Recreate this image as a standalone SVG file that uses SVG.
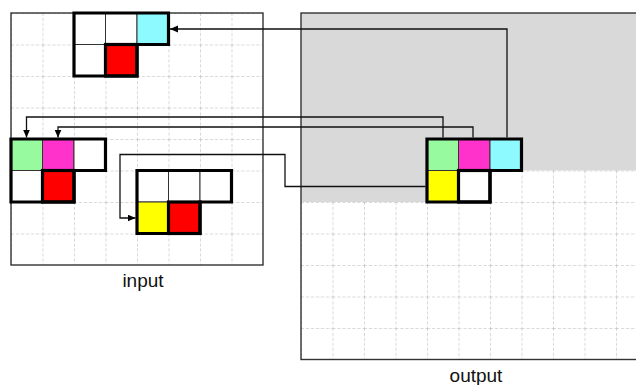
<svg xmlns="http://www.w3.org/2000/svg" width="636" height="385" viewBox="0 0 636 385">
  <style>
    .grid { stroke: #b0b0b0; stroke-width: 1; stroke-dasharray: 3 2; fill: none; }
    .frame { fill: none; stroke: #333; stroke-width: 1.4; }
    .cell { stroke: #333; stroke-width: 1; }
    .thick { fill: none; stroke: #000; stroke-width: 3.2; stroke-linejoin: miter; }
    .conn { fill: none; stroke: #111; stroke-width: 1.3; }
    .label { font-family: "Liberation Sans", Arial, sans-serif; font-size: 19px; fill: #111; text-anchor: middle; }
    .w { fill: #fff; }
    .cy { fill: #8cfaff; }
    .rd { fill: #ff0000; }
    .gr { fill: #98fa9e; }
    .mg { fill: #ff33cc; }
    .ye { fill: #ffff00; }
  </style>
  <defs>
    <marker id="arrow" markerUnits="userSpaceOnUse" markerWidth="9" markerHeight="8" refX="8" refY="3.5" orient="auto">
      <path d="M0,0 L8,3.5 L0,7 Z" fill="#000"/>
    </marker>
    <!-- 31.5px cell grid, dashed -->
    <pattern id="cells" x="11" y="13" width="31.5" height="31.5" patternUnits="userSpaceOnUse">
      <path d="M0,0 H31.5 M0,0 V31.5" class="grid"/>
    </pattern>
    <pattern id="cellsOut" x="301" y="13" width="31.5" height="31.5" patternUnits="userSpaceOnUse">
      <path d="M0,0 H31.5 M0,0 V31.5" class="grid"/>
    </pattern>
  </defs>

  <!-- input board -->
  <g id="input-board">
    <rect x="11" y="13" width="252" height="252" fill="#fff"/>
    <rect x="11" y="13" width="252" height="252" fill="url(#cells)"/>
    <rect x="11" y="13" width="252" height="252" class="frame"/>
    <text x="143" y="287" class="label">input</text>
  </g>

  <!-- output board -->
  <g id="output-board">
    <rect x="301" y="13" width="346.5" height="346.5" fill="#fff"/>
    <rect x="301" y="13" width="346.5" height="346.5" fill="url(#cellsOut)"/>
    <path d="M301,13 H647.5 V170.5 H490 V202 H301 Z" fill="#d9d9d9"/>
    <rect x="301" y="13" width="346.5" height="346.5" class="frame"/>
    <text x="476" y="382" class="label">output</text>
  </g>

  <!-- input piece, top -->
  <g id="piece-top">
    <rect x="74" y="13" width="31.5" height="31.5" class="cell w"/>
    <rect x="105.5" y="13" width="31.5" height="31.5" class="cell w"/>
    <rect x="137" y="13" width="31.5" height="31.5" class="cell cy"/>
    <rect x="74" y="44.5" width="31.5" height="31.5" class="cell w"/>
    <rect x="105.5" y="44.5" width="31.5" height="31.5" class="rd"/>
    <rect x="105.5" y="44.5" width="31.5" height="31.5" class="thick"/>
    <path d="M74,13 H168.5 V44.5 H137 V76 H74 Z" class="thick"/>
  </g>

  <!-- input piece, left -->
  <g id="piece-left">
    <rect x="11" y="139" width="31.5" height="31.5" class="cell gr"/>
    <rect x="42.5" y="139" width="31.5" height="31.5" class="cell mg"/>
    <rect x="74" y="139" width="31.5" height="31.5" class="cell w"/>
    <rect x="11" y="170.5" width="31.5" height="31.5" class="cell w"/>
    <rect x="42.5" y="170.5" width="31.5" height="31.5" class="rd"/>
    <rect x="42.5" y="170.5" width="31.5" height="31.5" class="thick"/>
    <path d="M11,139 H105.5 V170.5 H74 V202 H11 Z" class="thick"/>
  </g>

  <!-- input piece, middle -->
  <g id="piece-mid">
    <rect x="137" y="170.5" width="31.5" height="31.5" class="cell w"/>
    <rect x="168.5" y="170.5" width="31.5" height="31.5" class="cell w"/>
    <rect x="200" y="170.5" width="31.5" height="31.5" class="cell w"/>
    <rect x="137" y="202" width="31.5" height="31.5" class="cell ye"/>
    <rect x="168.5" y="202" width="31.5" height="31.5" class="rd"/>
    <rect x="168.5" y="202" width="31.5" height="31.5" class="thick"/>
    <path d="M137,170.5 H231.5 V202 H200 V233.5 H137 Z" class="thick"/>
  </g>

  <!-- output piece -->
  <g id="piece-out">
    <rect x="427" y="139" width="31.5" height="31.5" class="cell gr"/>
    <rect x="458.5" y="139" width="31.5" height="31.5" class="cell mg"/>
    <rect x="490" y="139" width="31.5" height="31.5" class="cell cy"/>
    <rect x="427" y="170.5" width="31.5" height="31.5" class="cell ye"/>
    <rect x="458.5" y="170.5" width="31.5" height="31.5" class="w"/>
    <rect x="458.5" y="170.5" width="31.5" height="31.5" class="thick"/>
    <path d="M427,139 H521.5 V170.5 H490 V202 H427 Z" class="thick"/>
  </g>

  <!-- connectors -->
  <g id="connectors">
    <path d="M507,137.5 V29 H170" class="conn" marker-end="url(#arrow)"/>
    <path d="M443,137.5 V117 H26.5 V137.5" class="conn" marker-end="url(#arrow)"/>
    <path d="M473,137.5 V127 H58 V137.5" class="conn" marker-end="url(#arrow)"/>
    <path d="M425.5,186.5 H285 V154.5 H120 V218 H135.5" class="conn" marker-end="url(#arrow)"/>
  </g>
</svg>
